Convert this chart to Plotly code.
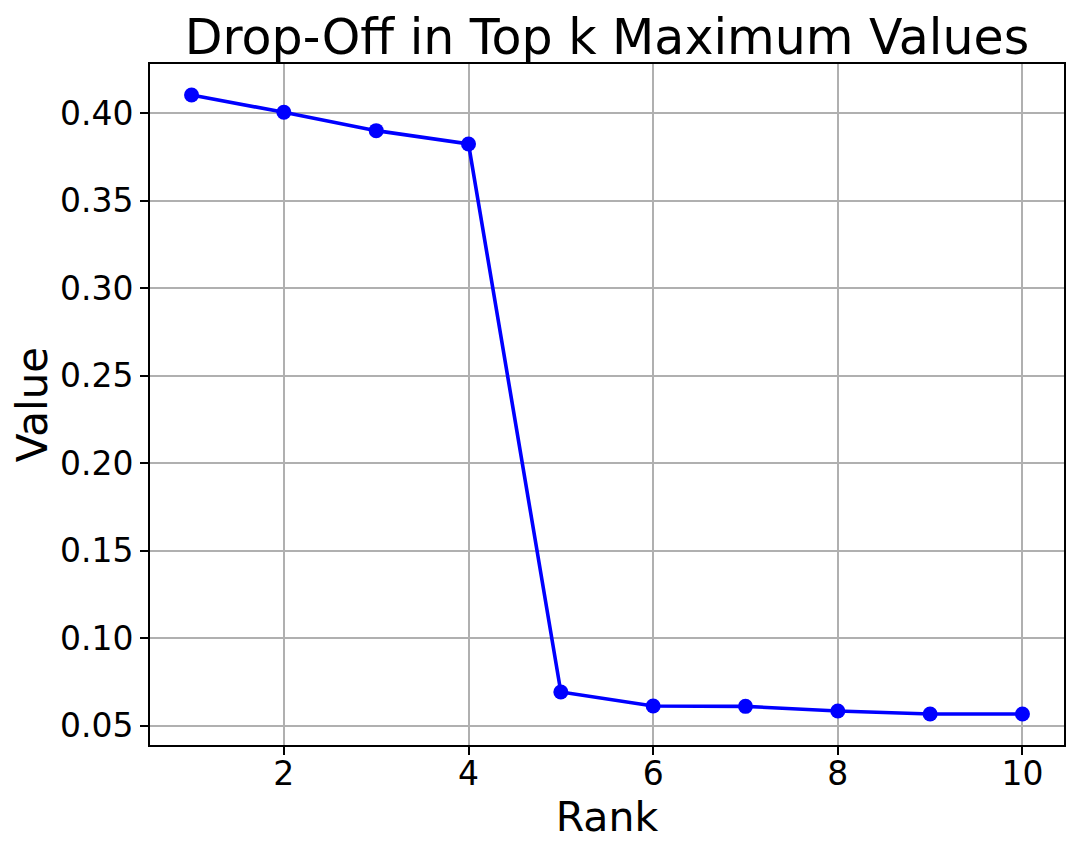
import plotly.graph_objects as go

ranks = [1, 2, 3, 4, 5, 6, 7, 8, 9, 10]
values = [0.4105, 0.4006, 0.3901, 0.3825, 0.0693, 0.0613, 0.0611, 0.0584, 0.0567, 0.0567]
x_ticks = [2, 4, 6, 8, 10]
y_ticks = [0.05, 0.10, 0.15, 0.20, 0.25, 0.30, 0.35, 0.40]

W, H = 1079, 854
OFF = 8  # page body margin
FONT = "DejaVu Sans"

xpad = (max(ranks) - min(ranks)) * 0.05
ypad = (max(values) - min(values)) * 0.05

fig = go.Figure()
fig.add_trace(go.Scatter(
    x=ranks, y=values, mode="lines+markers",
    line=dict(color="#0000ff", width=3.6),
    marker=dict(color="#0000ff", size=15),
    showlegend=False,
))

axis_common = dict(
    showline=True, linecolor="black", linewidth=1.9, mirror=True,
    ticks="outside", ticklen=8, tickwidth=1.9, tickcolor="black",
    showgrid=True, gridcolor="#b0b0b0", gridwidth=1.9,
    zeroline=False,
    tickfont=dict(family=FONT, size=33, color="black"),
)

fig.update_layout(
    width=W, height=H,
    margin=dict(l=150 - OFF, r=15 + OFF, t=64 - OFF, b=109 + OFF),
    paper_bgcolor="white", plot_bgcolor="white",
    font=dict(family=FONT, color="black"),
    title=dict(
        text="Drop-Off in Top k Maximum Values",
        font=dict(family=FONT, size=49, color="black"),
        x=((150 + 1064) / 2 - OFF) / W, xanchor="center", xref="container",
        y=1 - (37 - OFF) / H, yanchor="middle", yref="container",
    ),
    xaxis=dict(
        axis_common,
        range=[min(ranks) - xpad, max(ranks) + xpad],
        tickvals=x_ticks, ticktext=[str(v) for v in x_ticks],
        ticklabelstandoff=-10,
        title=dict(text="Rank", font=dict(family=FONT, size=41, color="black"), standoff=8),
    ),
    yaxis=dict(
        axis_common,
        range=[min(values) - ypad, max(values) + ypad],
        tickvals=y_ticks, ticktext=[f"{v:.2f}" for v in y_ticks],
        title=dict(text="Value", font=dict(family=FONT, size=42, color="black"), standoff=1),
    ),
)

fig.write_html("out.html")
